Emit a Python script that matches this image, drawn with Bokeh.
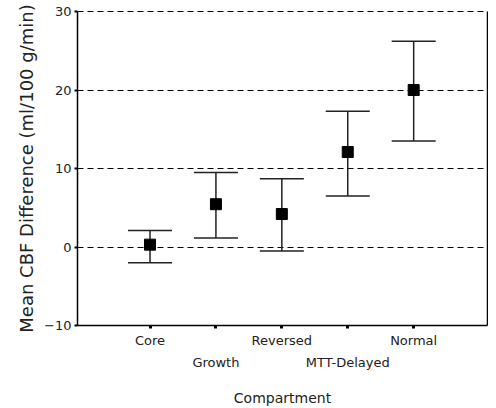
from bokeh.plotting import figure
from bokeh.models import (ColumnDataSource, Whisker, TeeHead, FixedTicker, Range1d, LinearAxis)
from bokeh.embed import file_html
from bokeh.resources import INLINE

categories = ["Core", "Growth", "Reversed", "MTT-Delayed", "Normal"]
means = [0.3, 5.45, 4.2, 12.1, 20.0]
upper = [2.1, 9.5, 8.7, 17.3, 26.2]
lower = [-2.0, 1.15, -0.5, 6.5, 13.5]
y_ticks = [-10, 0, 10, 20, 30]

xs = list(range(1, len(categories) + 1))
src = ColumnDataSource(dict(x=xs, mean=means, upper=upper, lower=lower))

FONT = "DejaVu Sans"
TXT = "#222222"

p = figure(width=488, height=408, output_backend="svg", toolbar_location=None,
           x_range=Range1d(-0.1, 6.12), y_range=Range1d(-10, 30),
           min_border_left=77, min_border_right=1, min_border_top=11, min_border_bottom=83)
p.outline_line_color = None
p.background_fill_color = "white"

w = Whisker(source=src, base="x", upper="upper", lower="lower",
            line_color="#222222", line_width=1.5,
            upper_head=TeeHead(size=44, line_color="#222222", line_width=1.5),
            lower_head=TeeHead(size=44, line_color="#222222", line_width=1.5))
p.add_layout(w)
p.scatter("x", "mean", source=src, marker="square", size=11, color="black")

# x axis
p.xaxis.ticker = FixedTicker(ticks=xs)
overrides = {}
for i, (x, c) in enumerate(zip(xs, categories)):
    overrides[x] = c if i % 2 == 0 else "\n" + c
p.xaxis.major_label_overrides = overrides
p.xaxis.major_label_text_line_height = 1.48
p.xaxis.axis_label = "Compartment"
p.xaxis.axis_label_text_font = FONT
p.xaxis.axis_label_text_font_size = "14px"
p.xaxis.axis_label_text_font_style = "normal"
p.xaxis.axis_label_text_color = TXT
p.xaxis.axis_label_standoff = 17
p.xaxis.major_label_text_font = FONT
p.xaxis.major_label_text_font_size = "13px"
p.xaxis.major_label_text_color = TXT
p.xaxis.major_label_standoff = 4
p.xaxis.major_tick_out = 3
p.xaxis.major_tick_in = 0
p.xaxis.major_tick_line_width = 3
p.xaxis.minor_tick_line_color = None
p.xaxis.axis_line_width = 1.5
p.xaxis.axis_line_color = "black"

# y axis
p.yaxis.ticker = FixedTicker(ticks=y_ticks)
p.yaxis.axis_label = "Mean CBF Difference (ml/100 g/min)"
p.yaxis.axis_label_text_font = FONT
p.yaxis.axis_label_text_font_size = "18px"
p.yaxis.axis_label_text_font_style = "normal"
p.yaxis.axis_label_text_color = TXT
p.yaxis.axis_label_standoff = 4
p.yaxis.major_label_text_font = FONT
p.yaxis.major_label_text_font_size = "13px"
p.yaxis.major_label_text_color = TXT
p.yaxis.major_label_standoff = 3
p.yaxis.major_tick_out = 3
p.yaxis.major_tick_in = 0
p.yaxis.major_tick_line_width = 2
p.yaxis.minor_tick_line_color = None
p.yaxis.axis_line_width = 1.5
p.yaxis.axis_line_color = "black"

p.xgrid.grid_line_color = None
p.ygrid.ticker = FixedTicker(ticks=[0, 10, 20])
p.ygrid.grid_line_color = "black"
p.ygrid.grid_line_dash = "6 4"
p.ygrid.grid_line_width = 1.2

# frame edges: dashed top, solid right (no ticks, no labels)
top_axis = LinearAxis(ticker=FixedTicker(ticks=[]), axis_line_dash="6 4", axis_line_width=1.2,
                      axis_line_color="black", major_tick_line_color=None,
                      minor_tick_line_color=None, major_label_standoff=0,
                      major_tick_out=0, major_tick_in=0)
p.add_layout(top_axis, "above")
right_axis = LinearAxis(ticker=FixedTicker(ticks=[]), axis_line_width=1.5, axis_line_color="black",
                        major_tick_line_color=None, minor_tick_line_color=None,
                        major_label_standoff=0, major_tick_out=0, major_tick_in=0)
p.add_layout(right_axis, "right")

open("out.html", "w").write(file_html(p, INLINE))
